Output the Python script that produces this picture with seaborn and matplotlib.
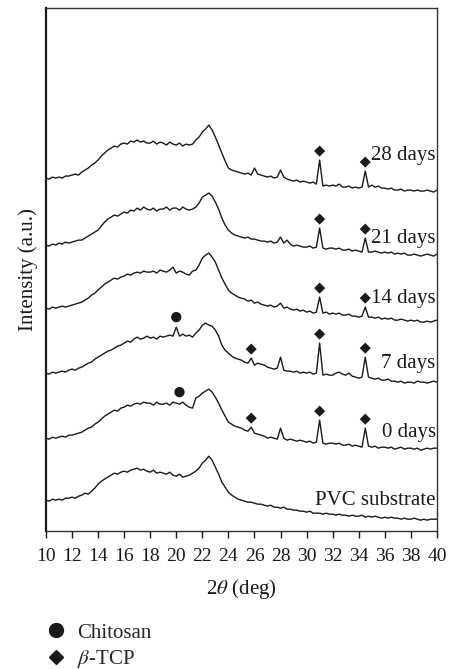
import numpy as np
import pandas as pd
import matplotlib
matplotlib.use("Agg")
import matplotlib.pyplot as plt
from matplotlib.lines import Line2D
import seaborn as sns

# XRD patterns, 2theta grid 10-40 deg at 0.25 deg steps (121 points)
two_theta = np.linspace(10, 40, 121)

pvc = [31, 30, 32, 31, 32, 31, 33, 33, 34, 33, 35, 36, 38, 37, 40, 43,
       47, 50, 52, 54, 56, 58, 57, 59, 60, 59, 61, 62, 63, 61, 62, 60,
       59, 61, 58, 59, 58, 57, 59, 56, 55, 57, 54, 55, 56, 58, 60, 63,
       68, 71, 75, 71, 64, 57, 49, 44, 39, 36, 34, 32, 31, 30, 29, 29,
       28, 27, 27, 26, 25, 26, 24, 24, 23, 24, 22, 22, 21, 21, 20, 20,
       19, 20, 18, 18, 18, 17, 18, 17, 17, 16, 17, 16, 16, 15, 16, 15,
       15, 16, 14, 15, 14, 15, 14, 13, 14, 13, 14, 13, 13, 12, 13, 12,
       12, 13, 12, 11, 12, 11, 12, 12, 12]
day0 = [33, 32, 34, 33, 34, 35, 34, 36, 36, 37, 38, 39, 41, 43, 44, 47,
        49, 52, 55, 57, 59, 61, 60, 63, 64, 66, 65, 67, 68, 67, 69, 68,
        68, 66, 69, 67, 67, 68, 66, 69, 68, 67, 69, 66, 64, 63, 73, 75,
        78, 80, 82, 79, 74, 68, 61, 55, 49, 47, 45, 44, 43, 41, 40, 44,
        38, 37, 36, 35, 33, 34, 33, 32, 43, 33, 31, 32, 31, 30, 31, 30,
        29, 30, 28, 29, 51, 28, 27, 28, 28, 27, 28, 26, 26, 27, 25, 26,
        25, 24, 43, 25, 24, 25, 23, 24, 24, 23, 24, 22, 23, 24, 22, 23,
        23, 22, 23, 21, 22, 23, 22, 23, 23]
day7 = [33, 32, 34, 33, 34, 35, 34, 36, 37, 36, 38, 39, 41, 43, 44, 47,
        49, 51, 53, 55, 56, 58, 60, 61, 63, 65, 64, 67, 69, 67, 68, 70,
        68, 69, 67, 70, 69, 70, 71, 70, 79, 70, 72, 70, 71, 69, 73, 76,
        81, 83, 81, 80, 76, 70, 61, 56, 53, 50, 48, 47, 46, 44, 43, 48,
        41, 43, 42, 41, 39, 38, 37, 38, 49, 36, 35, 35, 34, 35, 33, 34,
        33, 34, 32, 33, 63, 31, 32, 31, 31, 33, 34, 32, 31, 33, 30, 29,
        28, 29, 49, 29, 28, 27, 28, 26, 26, 27, 25, 25, 24, 25, 23, 24,
        24, 23, 25, 24, 24, 23, 24, 25, 24]
day14 = [33, 32, 34, 33, 34, 35, 34, 35, 36, 37, 38, 39, 41, 43, 46, 48,
         51, 54, 57, 59, 61, 63, 62, 64, 65, 67, 66, 68, 69, 68, 70, 69,
         69, 70, 68, 71, 70, 69, 71, 74, 68, 70, 69, 67, 66, 70, 71, 76,
         83, 86, 88, 84, 79, 71, 63, 57, 51, 48, 46, 44, 43, 42, 40, 41,
         38, 39, 37, 36, 35, 36, 34, 35, 38, 33, 34, 32, 31, 32, 30, 31,
         29, 30, 28, 29, 44, 28, 29, 27, 28, 27, 28, 26, 26, 27, 25, 25,
         24, 25, 34, 24, 24, 23, 24, 22, 23, 22, 23, 21, 21, 22, 21, 20,
         21, 20, 21, 19, 19, 20, 19, 20, 21]
day21 = [31, 30, 32, 31, 33, 32, 34, 33, 34, 35, 36, 36, 38, 40, 42, 44,
         46, 50, 54, 57, 59, 61, 60, 62, 64, 63, 66, 65, 68, 66, 69, 67,
         66, 68, 65, 67, 67, 69, 66, 68, 68, 66, 69, 67, 66, 67, 69, 73,
         79, 81, 83, 80, 74, 67, 58, 51, 46, 43, 41, 40, 39, 38, 39, 37,
         37, 36, 35, 35, 34, 35, 33, 34, 39, 33, 36, 32, 30, 31, 30, 29,
         29, 30, 28, 29, 48, 28, 27, 28, 28, 27, 28, 26, 26, 27, 25, 26,
         25, 24, 38, 24, 24, 25, 24, 23, 24, 23, 24, 22, 23, 22, 23, 21,
         21, 22, 21, 20, 21, 22, 21, 20, 22]
day28 = [33, 32, 34, 33, 34, 33, 35, 35, 36, 37, 36, 39, 41, 43, 46, 48,
         51, 55, 58, 61, 63, 65, 64, 67, 68, 67, 70, 69, 71, 69, 70, 68,
         68, 70, 67, 69, 68, 66, 69, 67, 66, 68, 65, 67, 66, 67, 71, 74,
         79, 82, 86, 81, 74, 66, 58, 50, 43, 41, 40, 39, 38, 37, 38, 36,
         43, 37, 36, 35, 34, 35, 33, 34, 41, 34, 32, 31, 30, 31, 29, 30,
         29, 28, 29, 27, 51, 25, 26, 25, 26, 25, 27, 24, 24, 25, 23, 24,
         23, 24, 40, 24, 26, 24, 25, 23, 23, 22, 23, 21, 21, 22, 20, 21,
         21, 20, 21, 20, 20, 21, 20, 19, 21]

patterns = ["PVC substrate", "0 days", "7 days", "14 days", "21 days", "28 days"]
pattern_values = [pvc, day0, day7, day14, day21, day28]
offsets = [0, 60, 125, 190, 255, 320]

chitosan_marks = [("0 days", 20.25), ("7 days", 20.0)]
tcp_marks = [("0 days", 25.75), ("0 days", 31.0), ("0 days", 34.5),
             ("7 days", 25.75), ("7 days", 31.0), ("7 days", 34.5),
             ("14 days", 31.0), ("14 days", 34.5),
             ("21 days", 31.0), ("21 days", 34.5),
             ("28 days", 31.0), ("28 days", 34.5)]

sns.set_theme(style="white")
plt.rcParams["font.family"] = ["Liberation Serif", "DejaVu Serif"]
plt.rcParams["mathtext.fontset"] = "stix"

frames = []
for name, vals, off in zip(patterns, pattern_values, offsets):
    frames.append(pd.DataFrame({"two_theta": two_theta,
                                "intensity": np.array(vals) + off,
                                "pattern": name}))
df = pd.concat(frames, ignore_index=True)

fig = plt.figure(figsize=(4.5, 6.69), dpi=100)
ax = fig.add_axes([0.102, 0.206, 0.869, 0.782])

sns.lineplot(data=df, x="two_theta", y="intensity", hue="pattern",
             palette={p: "#1a1a1a" for p in patterns}, estimator=None,
             legend=False, lw=1.0, ax=ax)


def mark_points(marks, gap=9):
    xs, ys = [], []
    for name, pos in marks:
        sub = df[df["pattern"] == name]
        near = sub[np.abs(sub["two_theta"] - pos) <= 0.26]
        xs.append(pos)
        ys.append(near["intensity"].max() + gap)
    return xs, ys


cx, cy = mark_points(chitosan_marks, gap=10)
dx, dy = mark_points(tcp_marks, gap=9)
sns.scatterplot(x=cx, y=cy, marker="o", s=55, color="#1a1a1a",
                edgecolor="none", ax=ax, zorder=5)
sns.scatterplot(x=dx, y=dy, marker="D", s=32, color="#1a1a1a",
                edgecolor="none", ax=ax, zorder=5)

# trace labels at right
label_y = [31, 39, 43, 43, 38, 56]
for name, ly, off in zip(patterns, label_y, offsets):
    ax.text(39.9, ly + off, name, ha="right", va="center", fontsize=15,
            color="#1a1a1a")

ax.set_xlim(10, 40)
ax.set_ylim(0, 523)
ax.set_xticks(np.arange(10, 41, 2))
ax.set_yticks([])
ax.tick_params(axis="x", direction="out", length=5, width=1, bottom=True,
               labelsize=14, colors="#1a1a1a", pad=7)
for side in ["top", "right", "bottom"]:
    ax.spines[side].set_color("#333333")
    ax.spines[side].set_linewidth(1.0)
ax.spines["left"].set_color("#1a1a1a")
ax.spines["left"].set_linewidth(1.6)

ax.set_xlabel(r"2$\theta$ (deg)", fontsize=15, color="#1a1a1a", labelpad=9)
ax.set_ylabel("Intensity (a.u.)", fontsize=15, color="#1a1a1a", labelpad=6)

handles = [Line2D([], [], marker="o", ls="none", color="#1a1a1a", markersize=10),
           Line2D([], [], marker="D", ls="none", color="#1a1a1a", markersize=7)]
fig.legend(handles, ["Chitosan", r"$\beta$-TCP"], loc="upper left",
           bbox_to_anchor=(0.079, 0.081), frameon=False, fontsize=15,
           handletextpad=0.4, labelspacing=0.25, handlelength=1.2,
           borderaxespad=0)

fig.savefig("out.png", dpi=100)
